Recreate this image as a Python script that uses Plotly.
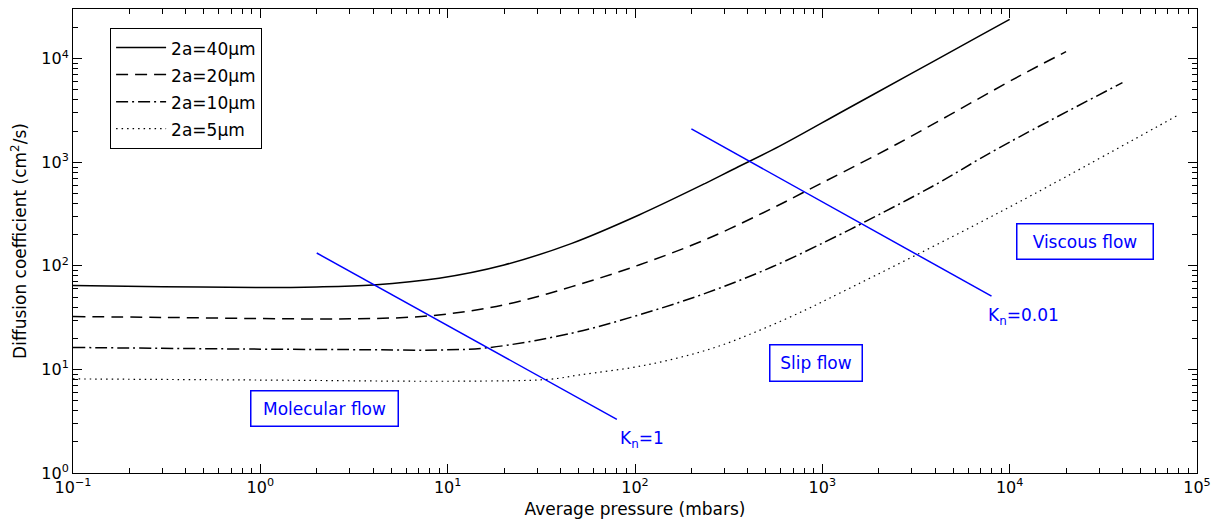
import plotly.graph_objects as go

# ---- data ----
P_40 = [0.1, 0.3, 1, 2, 4, 9, 20, 46, 105, 239, 331, 588, 1331, 3013, 6835, 10000]
D_40 = [64.5, 63, 61.7, 62.5, 65.5, 76, 102, 165, 310, 630, 847, 1422, 3216, 7250, 16400, 24000]

P_20 = [0.1, 0.3, 1, 3, 8, 20, 46, 105, 239, 541, 798, 2462, 11170, 20000]
D_20 = [32.4, 31.8, 31, 30.8, 32.9, 42, 63, 102, 180, 360, 515, 1476, 6745, 11700]

P_10 = [0.1, 1, 4, 9, 16.4, 46, 105, 239, 541, 1225, 1633, 3857, 8740, 40000]
D_10 = [16.3, 15.7, 15.5, 15.4, 16.2, 22.4, 33.6, 54.5, 98, 198, 258, 584, 1372, 5870]

P_5 = [0.1, 1, 11.6, 35, 50.5, 114, 259, 468, 815, 1225, 3190, 11400, 80000]
D_5 = [8.1, 7.9, 7.7, 8.04, 8.85, 11.0, 16.0, 24.1, 37.6, 54, 128, 420, 2880]

KN1_P = [2, 80]
KN1_D = [133, 3.3]
KN001_P = [200, 8000]
KN001_D = [2100, 51]

SERIES_NAMES = ["2a=40µm", "2a=20µm", "2a=10µm", "2a=5µm"]

X_TICKVALS = [0.1, 1, 10, 100, 1000, 10000, 100000]
X_TICKTEXT = ["10<sup>−1</sup>", "10<sup>0</sup>", "10<sup>1</sup>", "10<sup>2</sup>",
              "10<sup>3</sup>", "10<sup>4</sup>", "10<sup>5</sup>"]
Y_TICKVALS = [1, 10, 100, 1000, 10000]
Y_TICKTEXT = ["10<sup>0</sup>", "10<sup>1</sup>", "10<sup>2</sup>", "10<sup>3</sup>", "10<sup>4</sup>"]

FONT = "DejaVu Sans"

fig = go.Figure()

styles = [
    dict(dash="solid", width=1.5),
    dict(dash="12px,7px", width=1.5),
    dict(dash="12px,4px,2px,4px", width=1.5),
    dict(dash="1.5px,4px", width=1.2),
]
series = [(P_40, D_40), (P_20, D_20), (P_10, D_10), (P_5, D_5)]
for (px, dy), name, st in zip(series, SERIES_NAMES, styles):
    fig.add_trace(go.Scatter(
        x=px, y=dy, mode="lines", name=f'<span style="font-size:17px">{name}</span>',
        line=dict(color="black", dash=st["dash"], width=st["width"], shape="spline", smoothing=1.0),
    ))

for px, dy in [(KN1_P, KN1_D), (KN001_P, KN001_D)]:
    fig.add_trace(go.Scatter(x=px, y=dy, mode="lines", showlegend=False,
                             line=dict(color="#0000ff", width=1.5)))

minor_x = [k * 10 ** e for e in range(-1, 5) for k in range(2, 10)]
minor_y = [k * 10 ** e for e in range(0, 5) for k in range(2, 10) if k * 10 ** e < 30000]

axis_common = dict(
    showgrid=False, zeroline=False, showline=True, linecolor="black", linewidth=1,
    mirror="allticks", ticks="inside", ticklen=9, tickcolor="black", tickwidth=1,
    tickfont=dict(family=FONT, size=16, color="black"),
)

fig.update_xaxes(
    type="log", range=[-1, 5], tickvals=X_TICKVALS, ticktext=X_TICKTEXT,
    minor=dict(tickvals=minor_x, ticks="inside", ticklen=5, tickcolor="black", tickwidth=1),
    title=dict(text="Average pressure (mbars)", font=dict(family=FONT, size=17, color="black"), standoff=6),
    **axis_common,
)
fig.update_yaxes(
    type="log", range=[0, 4.48], tickvals=Y_TICKVALS, ticktext=Y_TICKTEXT,
    minor=dict(tickvals=minor_y, ticks="inside", ticklen=5, tickcolor="black", tickwidth=1),
    title=dict(text="Diffusion coefficient (cm<sup>2</sup>/s)", font=dict(family=FONT, size=17, color="black"), standoff=14),
    **axis_common,
)

box_font = dict(family=FONT, size=17, color="#0000ff")
for text, x, y, w, h in [
    ("Molecular flow", 0.345, 0.622, 146, 34),
    ("Slip flow", 2.967, 1.059, 91, 35),
    ("Viscous flow", 4.403, 2.234, 135, 34),
]:
    fig.add_annotation(x=x, y=y, xref="x", yref="y", text=text, showarrow=False,
                       font=box_font, bordercolor="#0000ff", borderwidth=1.5, borderpad=0,
                       width=w, height=h, bgcolor="white", xanchor="center", yanchor="middle")

for text, x, y in [("K<sub>n</sub>=1", 1.908, 0.319), ("K<sub>n</sub>=0.01", 3.872, 1.509)]:
    fig.add_annotation(x=x, y=y, xref="x", yref="y", text=text, showarrow=False,
                       font=box_font, xanchor="left", yanchor="middle")

# the page body has an 8px margin, so the figure is sized/placed to land on the reference layout
fig.update_layout(
    width=1214, height=522,
    margin=dict(l=65, r=25, t=1, b=57),
    paper_bgcolor="white", plot_bgcolor="white",
    font=dict(family=FONT, color="black"),
    legend=dict(x=0.033, y=0.959, xanchor="left", yanchor="top",
                bordercolor="black", borderwidth=1, bgcolor="white",
                font=dict(family=FONT, size=18.5, color="black"),
                itemwidth=50, tracegroupgap=0),
)

fig.write_html("out.html")
